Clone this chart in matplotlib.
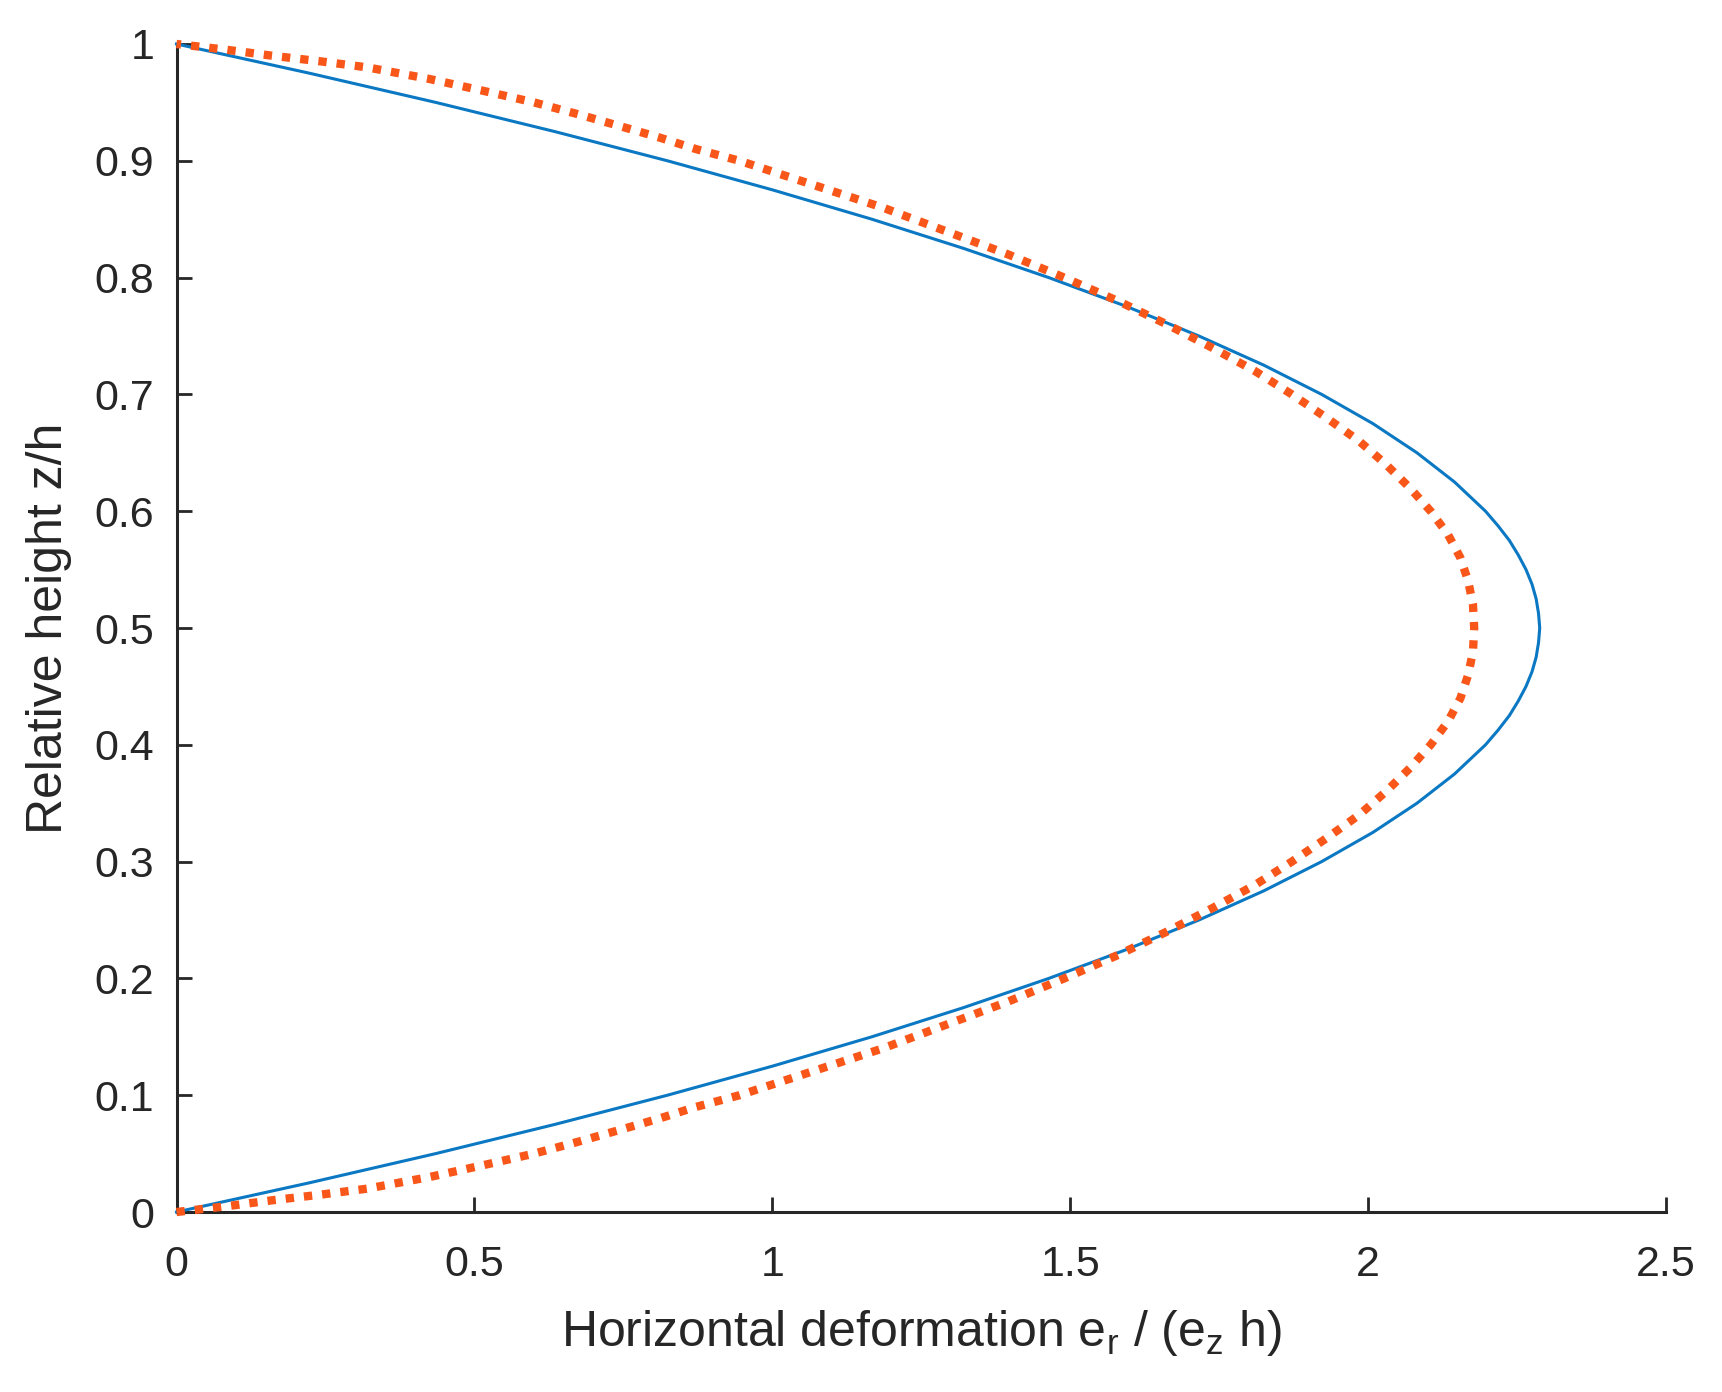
import matplotlib
matplotlib.use("Agg")
import matplotlib.pyplot as plt

plt.rcParams['font.family'] = ['Liberation Sans', 'DejaVu Sans']
plt.rcParams['mathtext.default'] = 'regular'

# relative height z/h (vertical axis)
z_blue = [0, 0.025, 0.05, 0.075, 0.1, 0.125, 0.15, 0.175, 0.2, 0.225, 0.25,
          0.275, 0.3, 0.325, 0.35, 0.375, 0.4, 0.4125, 0.425, 0.4375, 0.45,
          0.4625, 0.475, 0.4875, 0.5, 0.5125, 0.525, 0.5375, 0.55, 0.5625,
          0.575, 0.5875, 0.6, 0.625, 0.65, 0.675, 0.7, 0.725, 0.75,
          0.775, 0.8, 0.825, 0.85, 0.875, 0.9, 0.925, 0.95, 0.975, 1]
x_blue = [0, 0.223, 0.435, 0.635, 0.824, 1.001, 1.167, 1.321, 1.464, 1.596, 1.716,
          1.825, 1.922, 2.008, 2.082, 2.145, 2.197, 2.218, 2.237, 2.252, 2.265,
          2.275, 2.282, 2.286, 2.288, 2.286, 2.282, 2.275, 2.265, 2.252,
          2.237, 2.218, 2.197, 2.145, 2.082, 2.008, 1.922, 1.825, 1.716,
          1.596, 1.464, 1.321, 1.167, 1.001, 0.824, 0.635, 0.435, 0.223, 0]

z_dots = [0, 0.005, 0.01, 0.015, 0.02, 0.03, 0.04, 0.05, 0.06, 0.07, 0.08, 0.09,
          0.1, 0.12, 0.14, 0.16, 0.18, 0.2, 0.22, 0.24, 0.26, 0.28, 0.3, 0.32,
          0.34, 0.36, 0.38, 0.4, 0.42, 0.44, 0.46, 0.48, 0.5,
          0.52, 0.54, 0.56, 0.58, 0.6, 0.62, 0.64, 0.66, 0.68, 0.7, 0.72,
          0.74, 0.76, 0.78, 0.8, 0.82, 0.84, 0.86, 0.88, 0.9, 0.91, 0.92,
          0.93, 0.94, 0.95, 0.96, 0.97, 0.98, 0.985, 0.99, 0.995, 1]
x_dots = [0, 0.085, 0.16, 0.244, 0.32, 0.425, 0.514, 0.60, 0.673, 0.742, 0.81, 0.872,
          0.945, 1.065, 1.185, 1.29, 1.395, 1.49, 1.58, 1.662, 1.738, 1.81, 1.872, 1.93,
          1.985, 2.03, 2.07, 2.105, 2.134, 2.155, 2.168, 2.176, 2.178,
          2.176, 2.168, 2.155, 2.134, 2.105, 2.07, 2.03, 1.985, 1.93, 1.872, 1.81,
          1.738, 1.662, 1.58, 1.49, 1.395, 1.29, 1.185, 1.065, 0.945, 0.872, 0.81,
          0.742, 0.673, 0.60, 0.514, 0.425, 0.32, 0.244, 0.16, 0.085, 0]

xticks = [0, 0.5, 1, 1.5, 2, 2.5]
xticklabels = ['0', '0.5', '1', '1.5', '2', '2.5']
yticks = [0, 0.1, 0.2, 0.3, 0.4, 0.5, 0.6, 0.7, 0.8, 0.9, 1]
yticklabels = ['0', '0.1', '0.2', '0.3', '0.4', '0.5', '0.6', '0.7', '0.8', '0.9', '1']

fig = plt.figure(figsize=(8.61, 6.96), dpi=200)
ax = fig.add_axes([0.1025, 0.1293, 0.865, 0.8391])

ax.plot(x_blue, z_blue, color='#0A78C2', lw=1.1, clip_on=False, zorder=3)
# dotted series: square dots, roughly 8 px wide every 18 px
ax.plot(x_dots, z_dots, color='#F9561A', lw=3.0, linestyle=(0, (1, 1.2)),
        dash_capstyle='butt', clip_on=False, zorder=4)

ax.set_xlim(0, 2.5)
ax.set_ylim(0, 1)
ax.set_xticks(xticks)
ax.set_xticklabels(xticklabels)
ax.set_yticks(yticks)
ax.set_yticklabels(yticklabels)

for s in ['top', 'right']:
    ax.spines[s].set_visible(False)
for s in ['left', 'bottom']:
    ax.spines[s].set_linewidth(1.1)
    ax.spines[s].set_color('#262626')

ax.tick_params(direction='in', length=5.5, width=1.0, colors='#262626',
               labelsize=15.5, labelcolor='#262626')
ax.tick_params(axis='x', pad=12)
ax.tick_params(axis='y', pad=8)

ax.set_xlabel('Horizontal deformation e$_r$ / (e$_z$ h)', fontsize=18,
              color='#262626', labelpad=8)
ax.set_ylabel('Relative height z/h', fontsize=18, color='#262626', labelpad=8)

fig.savefig('out.png', dpi=200, facecolor='white')
